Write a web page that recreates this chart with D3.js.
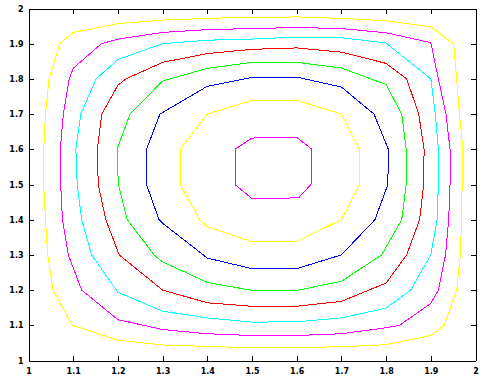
<!DOCTYPE html>
<html>
<head>
<meta charset="utf-8">
<script src="https://cdn.jsdelivr.net/npm/d3@7"></script>
<style>
  body { margin: 0; background: #fff; }
  svg { display: block; }
</style>
</head>
<body>
<div id="chart"></div>
<script>
// tick labels
const ticks = [1, 1.1, 1.2, 1.3, 1.4, 1.5, 1.6, 1.7, 1.8, 1.9, 2];

// contour lines, outermost first as [x, y]
const level1 = [[1.1,1.932],[1.2,1.957],[1.3,1.967],[1.4,1.972],[1.5,1.975],[1.6,1.976],[1.7,1.972],[1.8,1.965],[1.9,1.948],
  [1.951,1.9],[1.958,1.8],[1.964,1.7],[1.972,1.6],[1.970,1.5],[1.969,1.4],[1.966,1.3],[1.958,1.2],[1.93,1.1],
  [1.9,1.071],[1.8,1.045],[1.7,1.039],[1.6,1.037],[1.5,1.036],[1.4,1.040],[1.3,1.044],[1.2,1.058],[1.098,1.1],
  [1.055,1.2],[1.043,1.3],[1.038,1.4],[1.034,1.5],[1.034,1.6],[1.038,1.7],[1.046,1.8],[1.07,1.9]];
const level2 = [[1.1,1.83],[1.163,1.9],[1.2,1.913],[1.3,1.932],[1.4,1.940],[1.5,1.943],[1.6,1.946],[1.7,1.943],[1.8,1.931],
  [1.9,1.903],[1.917,1.8],[1.934,1.7],[1.943,1.6],[1.943,1.5],[1.940,1.4],[1.933,1.3],[1.917,1.2],[1.9,1.162],
  [1.83,1.1],[1.8,1.093],[1.7,1.076],[1.6,1.071],[1.5,1.071],[1.4,1.076],[1.3,1.088],[1.2,1.116],
  [1.119,1.2],[1.089,1.3],[1.076,1.4],[1.072,1.5],[1.071,1.6],[1.078,1.7],[1.091,1.8]];
const level3 = [[1.117,1.7],[1.151,1.8],[1.2,1.855],[1.3,1.9],[1.4,1.910],[1.5,1.913],[1.6,1.919],[1.7,1.917],[1.8,1.902],
  [1.9,1.8],[1.910,1.7],[1.917,1.6],[1.917,1.5],[1.914,1.4],[1.9,1.3],[1.855,1.2],[1.8,1.149],
  [1.7,1.121],[1.6,1.110],[1.5,1.109],[1.4,1.121],[1.3,1.140],[1.2,1.194],
  [1.141,1.3],[1.119,1.4],[1.109,1.5],[1.106,1.6]];
const level4 = [[1.164,1.7],[1.2,1.782],[1.218,1.8],[1.3,1.847],[1.4,1.872],[1.5,1.884],[1.6,1.888],[1.7,1.876],[1.8,1.844],
  [1.846,1.8],[1.873,1.7],[1.885,1.6],[1.884,1.5],[1.875,1.4],[1.846,1.3],[1.8,1.22],
  [1.7,1.168],[1.6,1.154],[1.5,1.154],[1.4,1.164],[1.3,1.2],
  [1.203,1.3],[1.173,1.4],[1.156,1.5],[1.154,1.6]];
const level5 = [[1.227,1.7],[1.3,1.794],[1.4,1.830],[1.5,1.847],[1.6,1.847],[1.7,1.831],[1.8,1.784],
  [1.835,1.7],[1.845,1.6],[1.845,1.5],[1.835,1.4],[1.79,1.3],
  [1.7,1.225],[1.6,1.199],[1.5,1.199],[1.4,1.222],[1.3,1.280],
  [1.281,1.3],[1.221,1.4],[1.201,1.5],[1.198,1.6]];
const level6 = [[1.294,1.7],[1.4,1.779],[1.5,1.804],[1.6,1.805],[1.7,1.777],
  [1.773,1.7],[1.805,1.6],[1.804,1.5],[1.775,1.4],[1.7,1.3],
  [1.6,1.261],[1.5,1.261],[1.4,1.291],[1.3,1.39],
  [1.292,1.4],[1.264,1.5],[1.264,1.6]];
const level7 = [[1.4,1.7],[1.5,1.739],[1.6,1.739],[1.7,1.7],
  [1.74,1.6],[1.74,1.5],[1.7,1.4],
  [1.6,1.338],[1.5,1.338],[1.4,1.38],
  [1.383,1.4],[1.339,1.5],[1.339,1.6]];
const level8 = [[1.462,1.6],[1.5,1.632],[1.6,1.634],[1.634,1.6],[1.632,1.5],[1.604,1.462],[1.5,1.46],[1.462,1.5]];

const levels = [level1, level2, level3, level4, level5, level6, level7, level8];
const colors = ["#ffff00", "#ff00ff", "#00ffff", "#ff0000", "#00ff00", "#0000ff", "#ffff00", "#ff00ff"];

const width = 484;
const height = 386;
const margin = {top: 8.5, right: 8.5, bottom: 25.5, left: 28.5};

const x = d3.scaleLinear().domain([1, 2]).range([margin.left, width - margin.right]);
const y = d3.scaleLinear().domain([1, 2]).range([height - margin.bottom, margin.top]);

const svg = d3.select("#chart").append("svg")
    .attr("width", width)
    .attr("height", height);

svg.append("rect")
    .attr("width", width)
    .attr("height", height)
    .attr("fill", "#fff");

// contour lines
const line = d3.line()
    .x(d => x(d[0]))
    .y(d => y(d[1]))
    .curve(d3.curveLinearClosed);

svg.append("g")
    .attr("fill", "none")
    .attr("stroke-width", 1)
    .selectAll("path")
    .data(levels)
    .join("path")
      .attr("stroke", (d, i) => colors[i])
      .attr("shape-rendering", "crispEdges")
      .attr("d", line);

// axes, ticks pointing inwards on all four sides
const fmt = d => String(d);

const styleAxis = g => {
  g.attr("font-family", "'DejaVu Sans', sans-serif")
   .attr("font-size", 8)
   .attr("font-weight", "bold")
   .attr("shape-rendering", "crispEdges");
  g.selectAll("line").attr("stroke", "#000");
  g.selectAll("path").attr("stroke", "#000");
  g.selectAll("text").attr("fill", "#000");
};

svg.append("g")
    .attr("transform", `translate(0,${y(1)})`)
    .call(d3.axisBottom(x).tickValues(ticks).tickFormat(fmt).tickSizeInner(-5).tickSizeOuter(0).tickPadding(8))
    .call(styleAxis);

svg.append("g")
    .attr("transform", `translate(${x(1)},0)`)
    .call(d3.axisLeft(y).tickValues(ticks).tickFormat(fmt).tickSizeInner(-5).tickSizeOuter(0).tickPadding(5))
    .call(styleAxis);

svg.append("g")
    .attr("transform", `translate(0,${y(2)})`)
    .call(d3.axisTop(x).tickValues(ticks).tickFormat("").tickSizeInner(-5).tickSizeOuter(0))
    .call(styleAxis);

svg.append("g")
    .attr("transform", `translate(${x(2)},0)`)
    .call(d3.axisRight(y).tickValues(ticks).tickFormat("").tickSizeInner(-5).tickSizeOuter(0))
    .call(styleAxis);
</script>
</body>
</html>
